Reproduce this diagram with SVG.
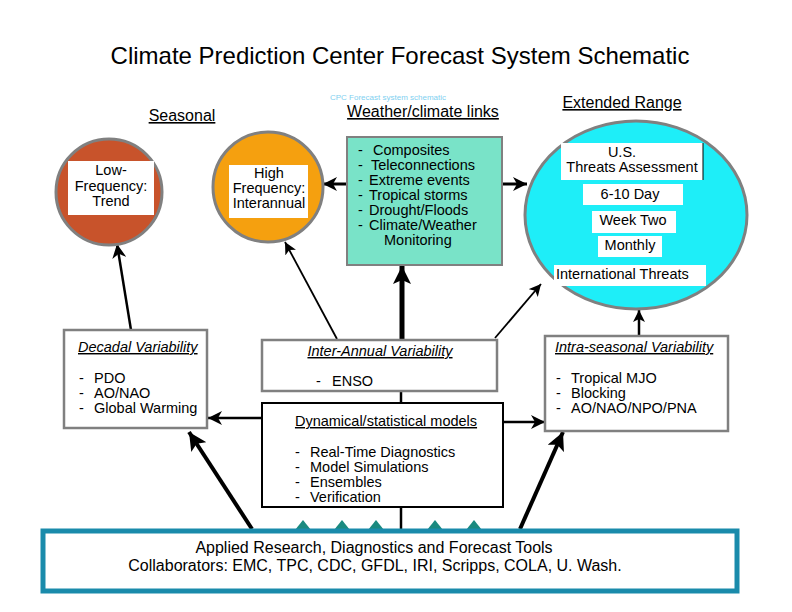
<svg xmlns="http://www.w3.org/2000/svg" width="792" height="612" viewBox="0 0 792 612">
<defs>
<style>
text{font-family:"Liberation Sans",Arial,sans-serif;fill:#000}
.t13{font-size:14.5px}
.t14{font-size:16px}
.c{text-anchor:middle}
.u{text-decoration:underline}
.i{font-style:italic}
.gbox{fill:#fff;stroke:#808080;stroke-width:2.5}
.wbox{fill:#fff;stroke:none}
.ln{stroke:#000;fill:none}
.tri{fill:#1a8a80}
</style>
<marker id="ah" markerUnits="userSpaceOnUse" markerWidth="16" markerHeight="14" refX="14" refY="7" orient="auto"><path d="M0,0 L14,7 L0,14 L4,7 z" fill="#000"/></marker>
<marker id="ahs" markerUnits="userSpaceOnUse" markerWidth="14" markerHeight="12" refX="12" refY="6" orient="auto"><path d="M0,0 L12,6 L0,12 L3,6 z" fill="#000"/></marker>
<marker id="ahb" markerUnits="userSpaceOnUse" markerWidth="20" markerHeight="18" refX="18" refY="9" orient="auto"><path d="M0,0 L18,9 L0,18 L4,9 z" fill="#000"/></marker>
</defs>
<rect width="792" height="612" fill="#fff"/>

<text x="400" y="64" class="c" style="font-size:24px">Climate Prediction Center Forecast System Schematic</text>
<text x="182" y="121" class="c u t14">Seasonal</text>
<text x="330" y="100" style="font-size:8px;fill:#7fd0f0">CPC Forecast system schematic</text>
<text x="423" y="117" class="c u t14">Weather/climate links</text>
<text x="622" y="108" class="c u t14">Extended Range</text>

<g id="connectors">
<line x1="401" y1="530" x2="401" y2="507" class="ln" stroke-width="2.5"/>
<line x1="401" y1="403" x2="401" y2="391" class="ln" stroke-width="2.5"/>
<line x1="402" y1="340" x2="402" y2="266" class="ln" stroke-width="5" marker-end="url(#ahb)"/>
<line x1="347" y1="184" x2="323" y2="184" class="ln" stroke-width="3" marker-end="url(#ah)"/>
<line x1="502" y1="184" x2="527" y2="184" class="ln" stroke-width="3" marker-end="url(#ah)"/>
<line x1="262" y1="418" x2="208" y2="418" class="ln" stroke-width="2.5" marker-end="url(#ah)"/>
<line x1="503" y1="422" x2="545" y2="422" class="ln" stroke-width="2.5" marker-end="url(#ah)"/>
<line x1="252" y1="529" x2="189" y2="432" class="ln" stroke-width="4" marker-end="url(#ahb)"/>
<line x1="520" y1="529" x2="563" y2="432" class="ln" stroke-width="4" marker-end="url(#ahb)"/>
<line x1="131" y1="330" x2="117" y2="244" class="ln" stroke-width="2.5" marker-end="url(#ah)"/>
<line x1="337" y1="339" x2="285" y2="242" class="ln" stroke-width="1.8" marker-end="url(#ahs)"/>
<line x1="495" y1="338" x2="541" y2="284" class="ln" stroke-width="1.8" marker-end="url(#ahs)"/>
<line x1="639" y1="336" x2="639" y2="310" class="ln" stroke-width="2.5" marker-end="url(#ahs)"/>
</g>

<g id="low-frequency">
<circle cx="109" cy="192" r="53" fill="#c8532b" stroke="#808080" stroke-width="3"/>
<rect x="68" y="161" width="86" height="54" class="wbox" stroke="#000" stroke-width="0.8"/>
<text x="111" y="175" class="c t13">Low-</text>
<text x="111" y="191" class="c t13">Frequency:</text>
<text x="111" y="206" class="c t13">Trend</text>
</g>

<g id="high-frequency">
<circle cx="268" cy="187" r="55" fill="#f5a00f" stroke="#808080" stroke-width="3"/>
<rect x="229" y="165" width="79" height="53" class="wbox"/>
<text x="269" y="178" class="c t13">High</text>
<text x="269" y="193" class="c t13">Frequency:</text>
<text x="269" y="208" class="c t13">Interannual</text>
</g>

<g id="weather-climate-links">
<rect x="347" y="137" width="155" height="128" fill="#79e3c8" stroke="#808080" stroke-width="2"/>
<g class="t13">
<text x="358" y="155">-</text><text x="373" y="155">Composites</text>
<text x="358" y="170">-</text><text x="371" y="170">Teleconnections</text>
<text x="358" y="185">-</text><text x="369" y="185">Extreme events</text>
<text x="358" y="200">-</text><text x="369" y="200">Tropical storms</text>
<text x="358" y="215">-</text><text x="369" y="215">Drought/Floods</text>
<text x="358" y="230">-</text><text x="369" y="230">Climate/Weather</text>
<text x="384" y="245">Monitoring</text>
</g>
</g>

<g id="extended-range">
<ellipse cx="636" cy="215" rx="111" ry="94" fill="#1eeef8" stroke="#808080" stroke-width="3"/>
<rect x="561" y="143" width="142" height="37" class="wbox"/>
<line x1="703" y1="143" x2="703" y2="180" stroke="#000" stroke-width="1"/>
<text x="622" y="157" class="c t13">U.S.</text>
<text x="632" y="172" class="c t13">Threats Assessment</text>
<rect x="583" y="184" width="100" height="21" class="wbox"/>
<text x="630" y="199" class="c t13">6-10 Day</text>
<rect x="592" y="211" width="84" height="22" class="wbox"/>
<text x="633" y="225" class="c t13">Week Two</text>
<rect x="598" y="236" width="64" height="21" class="wbox"/>
<text x="630" y="250" class="c t13">Monthly</text>
<rect x="554" y="265" width="152" height="21" class="wbox"/>
<text x="556" y="279" class="t13">International Threats</text>
</g>

<g id="decadal">
<rect x="64" y="330" width="143" height="98" class="gbox"/>
<text x="78" y="352" class="i u t13">Decadal Variability</text>
<text x="79" y="383" class="t13">-</text><text x="94" y="383" class="t13">PDO</text>
<text x="79" y="398" class="t13">-</text><text x="94" y="398" class="t13">AO/NAO</text>
<text x="79" y="413" class="t13">-</text><text x="94" y="413" class="t13">Global Warming</text>
</g>

<g id="inter-annual">
<rect x="262" y="340" width="235" height="51" class="gbox"/>
<text x="380" y="356" class="c i u t13">Inter-Annual Variability</text>
<text x="316" y="386" class="t13">-</text><text x="332" y="386" class="t13">ENSO</text>
</g>

<g id="dynamical">
<rect x="262" y="403" width="241" height="104" fill="#fff" stroke="#000" stroke-width="2"/>
<text x="386" y="426" class="c u t13">Dynamical/statistical models</text>
<text x="295" y="457" class="t13">-</text><text x="310" y="457" class="t13">Real-Time Diagnostics</text>
<text x="295" y="472" class="t13">-</text><text x="310" y="472" class="t13">Model Simulations</text>
<text x="295" y="487" class="t13">-</text><text x="310" y="487" class="t13">Ensembles</text>
<text x="295" y="502" class="t13">-</text><text x="310" y="502" class="t13">Verification</text>
</g>

<g id="intra-seasonal">
<rect x="545" y="336" width="183" height="95" class="gbox"/>
<text x="555" y="352" class="i u t13">Intra-seasonal Variability</text>
<text x="556" y="383" class="t13">-</text><text x="571" y="383" class="t13">Tropical MJO</text>
<text x="556" y="398" class="t13">-</text><text x="571" y="398" class="t13">Blocking</text>
<text x="556" y="413" class="t13">-</text><text x="571" y="413" class="t13">AO/NAO/NPO/PNA</text>
</g>

<g id="applied-research">
<polygon points="295,530 303,520 311,530" class="tri"/>
<polygon points="334,530 342,520 350,530" class="tri"/>
<polygon points="368,530 376,520 384,530" class="tri"/>
<polygon points="427,530 435,520 443,530" class="tri"/>
<polygon points="466,530 474,520 482,530" class="tri"/>
<rect x="43" y="531" width="694" height="60" fill="#fff" stroke="#1a8bab" stroke-width="5"/>
<text x="374" y="553" class="c t14">Applied Research, Diagnostics and Forecast Tools</text>
<text x="375" y="571" class="c t14">Collaborators: EMC, TPC, CDC, GFDL, IRI, Scripps, COLA, U. Wash.</text>
</g>
</svg>
